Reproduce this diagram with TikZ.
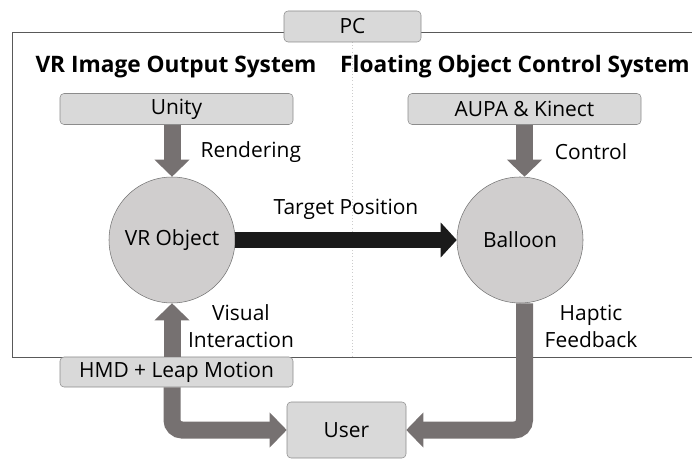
\documentclass[tikz,border=0pt]{standalone}
\usepackage{fontspec}
\setmainfont{Open Sans}
\usetikzlibrary{arrows.meta}
\definecolor{boxfill}{HTML}{D9D9D9}
\definecolor{boxline}{HTML}{8C8C8C}
\definecolor{ballfill}{HTML}{D0CECE}
\definecolor{flowgray}{HTML}{767171}
\definecolor{flowblack}{HTML}{1A1A1A}

\begin{document}
\begin{tikzpicture}[x=0.75pt, y=-0.75pt, font=\fontsize{15.7}{20.25}\selectfont]
\tikzset{>={Triangle[width=25.5pt,length=12.75pt]}}
\tikzset{box/.style={draw=boxline, fill=boxfill, rounded corners=3pt, minimum height=23.25pt, inner sep=0pt},
ball/.style={circle, draw=gray!90!black, fill=ballfill, minimum size=94.5pt, inner sep=0pt},
flow/.style={->, flowgray, line width=12.75pt, rounded corners=7.5pt},
title/.style={font=\fontsize{17}{20}\selectfont\bfseries}}
\useasboundingbox (0,0) rectangle (692,459);
\draw [black!65] (692,32) -- (12,32) -- (12,357) -- (692,357);
\draw [dotted, black!20] (352,42) -- (352,357);
\node [box, minimum width=102.75pt] (pc) at (352.5,26.5) {PC};
\node [title] (vrsys) at (176,67) {VR Image Output System};
\node [title] (floatsys) at (515,67) {Floating Object Control System};
\node [box, minimum width=174.75pt] (unity) at (176.5,109) {Unity};
\node [box, minimum width=174.75pt] (aupa) at (524.5,109) {AUPA \& Kinect};
\node [ball] (vrobj) at (172,240) {VR Object};
\node [ball] (balloon) at (520,240) {Balloon};
\node [box, minimum width=174.75pt, minimum height=22.5pt] (hmd) at (176.5,372) {HMD + Leap Motion};
\node [box, minimum width=89.25pt, minimum height=42pt] (user) at (346.5,430) {User};
% flows
\draw [flow] (vrobj.north |- unity.south) -- (vrobj.north);
\node [anchor=west] (rendlbl) at (196,152) {Rendering};
\draw [flow] (aupa.south) -- (aupa.south |- balloon.north);
\node (ctrllbl) at (591,152) {Control};
\draw [->, flowblack, line width=12pt, >={Triangle[width=25.5pt,length=12pt]}] (vrobj.east) -- (balloon.west);
\node (targetlbl) at (346,209) {Target Position};
\draw [flow] (vrobj.south |- hmd.north) -- (vrobj.south);
\node [align=center] (visuallbl) at (241,326) {Visual\\Interaction};
\draw [flow] (hmd.south -| vrobj.south) |- (user.west);
\draw [flow] (aupa.south |- balloon.south) |- (user.east);
\node [align=center] (hapticlbl) at (591,326) {Haptic\\Feedback};
\end{tikzpicture}
\end{document}
